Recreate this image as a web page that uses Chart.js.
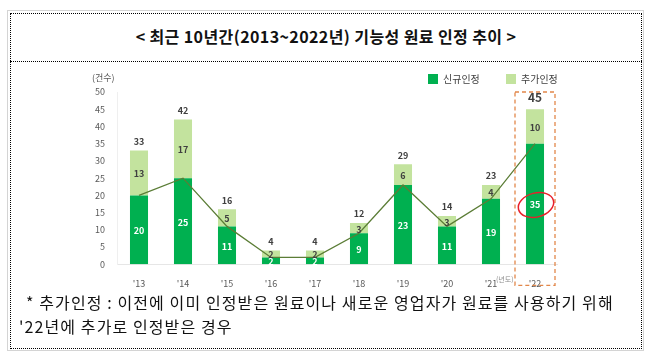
<!DOCTYPE html>
<html>
<head>
<meta charset="utf-8">
<script src="https://cdn.jsdelivr.net/npm/chart.js@4"></script>
<style>
  body { margin: 0; width: 659px; height: 360px; background: #fff; font-family: "Noto Sans CJK KR", sans-serif; position: relative; overflow: hidden; }
  .outer { position: absolute; left: 7px; top: 10px; width: 635px; height: 339px; border: 1px solid #d4d4d4; }
  .inner { position: absolute; left: 10px; top: 13px; width: 630px; height: 334px; border: 1px dotted #000; }
  .title { position: absolute; left: 10px; top: 13px; width: 632px; height: 48px; border-bottom: 1px dotted #000; text-align: center; line-height: 46px; font-size: 16px; letter-spacing: 0.4px; font-weight: bold; color: #111; }
  #wrap { position: absolute; left: 10px; top: 62px; width: 631px; height: 225px; }
  .note { position: absolute; font-size: 16px; letter-spacing: 1.1px; color: #111; white-space: nowrap; }
  .lg { position: absolute; font-size: 10px; color: #404040; white-space: nowrap; line-height: 12px; }
  .sq { display: inline-block; width: 10px; height: 10px; vertical-align: -1px; margin-right: 5px; }
</style>
</head>
<body>
<div class="outer"></div>
<div class="inner"></div>
<div class="title">&lt; 최근 10년간(2013~2022년) 기능성 원료 인정 추이 &gt;</div>
<div id="wrap"><canvas id="chart_trend" width="631" height="225"></canvas></div>
<div class="lg" style="left:92px; top:72px; color:#595959; font-size:9px;">(건수)</div>
<div class="lg" style="left:428px; top:73px;"><span class="sq" style="background:#00b050"></span>신규인정</div>
<div class="lg" style="left:506px; top:73px;"><span class="sq" style="background:#c3e39e"></span>추가인정</div>
<div class="lg" style="left:496px; top:273px; font-size:7px; color:#8c8c8c;">(년도)</div>
<div class="note" style="left:26px; top:290px;">* 추가인정 : 이전에 이미 인정받은 원료이나 새로운 영업자가 원료를 사용하기 위해</div>
<div class="note" style="left:19px; top:314px;">'22년에 추가로 인정받은 경우</div>
<script>
// 데이터
const years = ["'13", "'14", "'15", "'16", "'17", "'18", "'19", "'20", "'21", "'22"];
const newCount = [20, 25, 11, 2, 2, 9, 23, 11, 19, 35];
const addCount = [13, 17, 5, 2, 2, 3, 6, 3, 4, 10];
const totals = [33, 42, 16, 4, 4, 12, 29, 14, 23, 45];
const yTicks = [0, 5, 10, 15, 20, 25, 30, 35, 40, 45, 50];

// 막대 위/안 숫자 + '22 강조 표시
const labelPlugin = {
    id: "labelPlugin",
    afterDatasetsDraw(chart) {
        const ctx = chart.ctx;
        const barNew = chart.getDatasetMeta(1).data;
        const barAdd = chart.getDatasetMeta(2).data;
        ctx.save();
        ctx.textAlign = "center";
        ctx.textBaseline = "middle";
        barNew.forEach((bar, i) => {
            const mid = (bar.y + bar.base) / 2;
            ctx.font = "bold 9px 'Noto Sans CJK KR'";
            ctx.fillStyle = "#ffffff";
            ctx.fillText(newCount[i], bar.x, mid + 1);
        });
        barAdd.forEach((bar, i) => {
            const mid = (bar.y + bar.base) / 2;
            ctx.font = "bold 9px 'Noto Sans CJK KR'";
            ctx.fillStyle = "#404040";
            ctx.fillText(addCount[i], bar.x, mid + 1);
            ctx.font = (i === 9 ? "bold 12px" : "bold 9px") + " 'Noto Sans CJK KR'";
            ctx.fillText(totals[i], bar.x, bar.y - (i === 9 ? 12 : 9));
        });

        // '22 점선 박스
        const xs = chart.scales.x, ys = chart.scales.y;
        const cx = xs.getPixelForValue(9);
        ctx.setLineDash([4, 3]);
        ctx.strokeStyle = "#e2874a";
        ctx.lineWidth = 1.3;
        ctx.strokeRect(cx - 20, ys.getPixelForValue(50), 40, ys.getPixelForValue(0) - ys.getPixelForValue(50) + 21);
        ctx.setLineDash([]);

        // 35 빨간 원
        const b = barNew[9];
        ctx.strokeStyle = "#e8202a";
        ctx.lineWidth = 1.5;
        ctx.beginPath();
        ctx.ellipse(b.x + 1, (b.y + b.base) / 2 + 1, 18, 12, -0.25, 0, Math.PI * 2);
        ctx.stroke();
        ctx.restore();
    }
};

new Chart(document.getElementById("chart_trend").getContext("2d"), {
    type: "bar",
    data: {
        labels: years,
        datasets: [
            { type: "line", label: "추이", data: newCount, borderColor: "#5b7d36", borderWidth: 1.3, pointRadius: 0, fill: false, tension: 0, stack: "line", order: 0 },
            { label: "신규인정", data: newCount, backgroundColor: "#00b050", stack: "bar", order: 1 },
            { label: "추가인정", data: addCount, backgroundColor: "#c3e39e", stack: "bar", order: 1 }
        ]
    },
    options: {
        responsive: false,
        animation: false,
        maintainAspectRatio: false,
        layout: { padding: { left: 70, right: 84, top: 30, bottom: 0 } },
        datasets: { bar: { barPercentage: 0.82, categoryPercentage: 0.5 } },
        plugins: { legend: { display: false }, tooltip: { enabled: false } },
        scales: {
            x: {
                stacked: true,
                grid: { display: false },
                border: { color: "#e6e6e6" },
                ticks: { color: "#595959", font: { size: 9, family: "Noto Sans CJK KR" }, padding: 6, maxRotation: 0, autoSkip: false },
                afterFit(scale) { scale.height = 22.7; }
            },
            y: {
                stacked: true,
                min: 0, max: 50,
                afterBuildTicks(scale) { scale.ticks = yTicks.map(v => ({ value: v })); },
                grid: { display: false },
                border: { color: "#efefef" },
                ticks: { color: "#595959", font: { size: 9, family: "Noto Sans CJK KR" }, padding: 4 },
                afterFit(scale) { scale.width = 37; }
            }
        }
    },
    plugins: [labelPlugin]
});
</script>
</body>
</html>
